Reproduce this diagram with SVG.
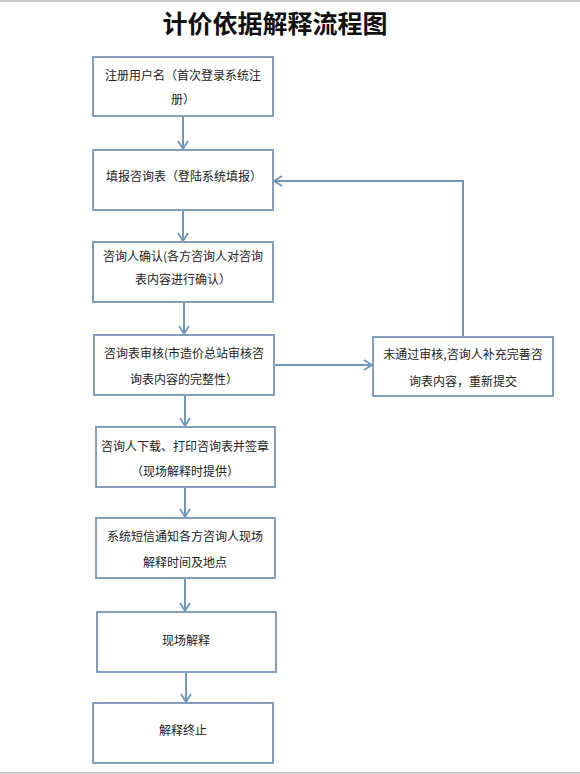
<svg xmlns="http://www.w3.org/2000/svg" width="580" height="774" viewBox="0 0 580 774">
<style>
.box{fill:#ffffff;stroke:#839fbd;stroke-width:2}
.t{font-family:"Noto Sans CJK SC","Noto Sans",sans-serif;font-size:12px;fill:#222222}
.c{text-anchor:middle}
.title{font-family:"Noto Sans CJK SC",sans-serif;font-size:25px;font-weight:bold;fill:#111111;text-anchor:middle}
.edge{fill:none;stroke:#7396bb;stroke-width:2}
</style>
<defs>
<marker id="ah" viewBox="0 0 10 12" refX="9" refY="6" markerWidth="10" markerHeight="12" markerUnits="userSpaceOnUse" orient="auto">
<path d="M1,1 L9,6 L1,11" fill="none" stroke="#7396bb" stroke-width="1.8"/>
</marker>
</defs>
<rect x="0" y="0" width="580" height="774" fill="#ffffff"/>
<line x1="0" y1="1" x2="580" y2="1" stroke="#cccccc" stroke-width="2"/>
<line x1="0" y1="773" x2="580" y2="773" stroke="#cccccc" stroke-width="2"/>
<text class="title" x="275" y="33">计价依据解释流程图</text>
<g id="connectors">
<line class="edge" x1="183" y1="116" x2="183" y2="149" marker-end="url(#ah)"/>
<line class="edge" x1="183" y1="210" x2="183" y2="241" marker-end="url(#ah)"/>
<line class="edge" x1="184" y1="302" x2="184" y2="334" marker-end="url(#ah)"/>
<line class="edge" x1="274" y1="365" x2="372" y2="365" marker-end="url(#ah)"/>
<polyline class="edge" points="463,337 463,181 274,181" marker-end="url(#ah)"/>
<line class="edge" x1="185" y1="395" x2="185" y2="426" marker-end="url(#ah)"/>
<line class="edge" x1="185" y1="487" x2="185" y2="517" marker-end="url(#ah)"/>
<line class="edge" x1="185" y1="578" x2="185" y2="611" marker-end="url(#ah)"/>
<line class="edge" x1="186" y1="672" x2="186" y2="702" marker-end="url(#ah)"/>
</g>
<g id="n1"><rect class="box" x="93" y="57" width="180" height="59"/>
<text class="t c" x="183" y="80">注册用户名（首次登录系统注</text>
<text class="t c" x="183" y="104">册）</text></g>
<g id="n2"><rect class="box" x="93" y="150" width="180" height="60"/>
<text class="t" x="106" y="181">填报咨询表（登陆系统填报）</text></g>
<g id="n3"><rect class="box" x="93" y="242" width="180" height="60"/>
<text class="t c" x="183" y="261">咨询人确认(各方咨询人对咨询</text>
<text class="t c" x="183" y="284">表内容进行确认）</text></g>
<g id="n4"><rect class="box" x="94" y="335" width="180" height="60"/>
<text class="t c" x="184" y="358">咨询表审核(市造价总站审核咨</text>
<text class="t c" x="184" y="384">询表内容的完整性）</text></g>
<g id="n5"><rect class="box" x="373" y="337" width="180" height="59"/>
<text class="t c" x="463" y="359">未通过审核,咨询人补充完善咨</text>
<text class="t c" x="463" y="386">询表内容，重新提交</text></g>
<g id="n6"><rect class="box" x="96" y="427" width="179" height="60"/>
<text class="t c" x="185" y="451">咨询人下载、打印咨询表并签章</text>
<text class="t c" x="185" y="476">（现场解释时提供）</text></g>
<g id="n7"><rect class="box" x="96" y="518" width="179" height="60"/>
<text class="t c" x="185" y="541">系统短信通知各方咨询人现场</text>
<text class="t c" x="185" y="567">解释时间及地点</text></g>
<g id="n8"><rect class="box" x="97" y="612" width="179" height="60"/>
<text class="t c" x="186" y="645">现场解释</text></g>
<g id="n9"><rect class="box" x="93" y="703" width="180" height="60"/>
<text class="t c" x="183" y="735">解释终止</text></g>
</svg>
